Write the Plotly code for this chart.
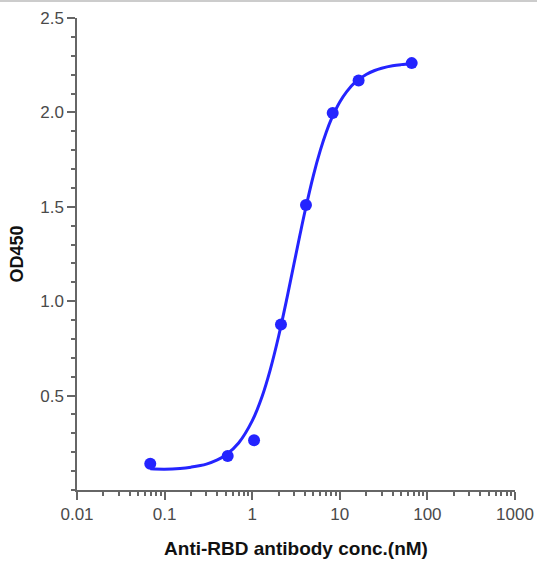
import plotly.graph_objects as go

# measured points
conc = [0.0686, 0.525, 1.05, 2.13, 4.11, 8.3, 16.4, 66.2]
od450 = [0.139, 0.180, 0.263, 0.876, 1.51, 1.997, 2.169, 2.261]

# fitted curve
curve_x = [0.0686, 0.1, 0.15, 0.2, 0.3, 0.4, 0.5, 0.7, 1.0, 1.3, 1.6, 2.0, 2.5, 3.0,
           3.5, 4.0, 5.0, 6.0, 7.0, 8.0, 10.0, 12.0, 15.0, 20.0, 25.0, 30.0, 40.0, 50.0, 66.7]
curve_y = [0.112, 0.110, 0.114, 0.121, 0.137, 0.159, 0.185, 0.249, 0.366, 0.497, 0.634,
           0.813, 1.019, 1.198, 1.349, 1.475, 1.667, 1.800, 1.895, 1.964, 2.055, 2.110,
           2.160, 2.201, 2.222, 2.234, 2.247, 2.253, 2.258]

x_tickvals = [0.01, 0.1, 1, 10, 100, 1000]
x_ticktext = ["0.01", "0.1", "1", "10", "100", "1000"]
y_tickvals = [0.5, 1.0, 1.5, 2.0, 2.5]
y_ticktext = ["0.5", "1.0", "1.5", "2.0", "2.5"]

blue = "#2424ff"
axis_col = "#666666"
font_fam = "Liberation Sans, Arial, sans-serif"

fig = go.Figure()
fig.add_trace(go.Scatter(x=curve_x, y=curve_y, mode="lines",
                         line=dict(color=blue, width=3, shape="spline"),
                         hoverinfo="skip", showlegend=False))
fig.add_trace(go.Scatter(x=conc, y=od450, mode="markers",
                         marker=dict(color=blue, size=12),
                         showlegend=False))

fig.update_layout(
    width=537, height=564,
    margin=dict(l=77, r=22, t=18, b=74),
    plot_bgcolor="white", paper_bgcolor="white",
    font=dict(family=font_fam, color="#444444", size=17),
    shapes=[dict(type="line", xref="paper", yref="paper",
                 x0=-0.2, x1=1.1, y0=1.036, y1=1.036,
                 line=dict(color="#bbbbbb", width=1.5))],
)
fig.update_xaxes(
    type="log", range=[-2, 3], automargin=False,
    tickvals=x_tickvals, ticktext=x_ticktext,
    showline=True, linecolor=axis_col, linewidth=1.5,
    ticks="outside", ticklen=8, tickwidth=1.5, tickcolor=axis_col,
    minor=dict(dtick="D1", ticks="outside", ticklen=4, tickwidth=1.5, tickcolor=axis_col, showgrid=False),
    showgrid=False, zeroline=False,
    tickfont=dict(size=17, color="#4a4a4a"),
    title=dict(text="<b>Anti-RBD antibody conc.(nM)</b>", font=dict(size=19, color="#111111"), standoff=19),
)
fig.update_yaxes(
    range=[0, 2.5], automargin=False,
    tickvals=y_tickvals, ticktext=y_ticktext,
    showline=True, linecolor=axis_col, linewidth=1.5,
    ticks="outside", ticklen=8, tickwidth=1.5, tickcolor=axis_col,
    minor=dict(dtick=0.1, ticks="outside", ticklen=4, tickwidth=1.5, tickcolor=axis_col, showgrid=False),
    showgrid=False, zeroline=False,
    tickfont=dict(size=17, color="#4a4a4a"),
    title=dict(text="<b>OD450</b>", font=dict(size=18, color="#111111"), standoff=12),
)

fig.write_html("out.html", config={"displayModeBar": False},
               post_script="document.body.style.margin='0';")
